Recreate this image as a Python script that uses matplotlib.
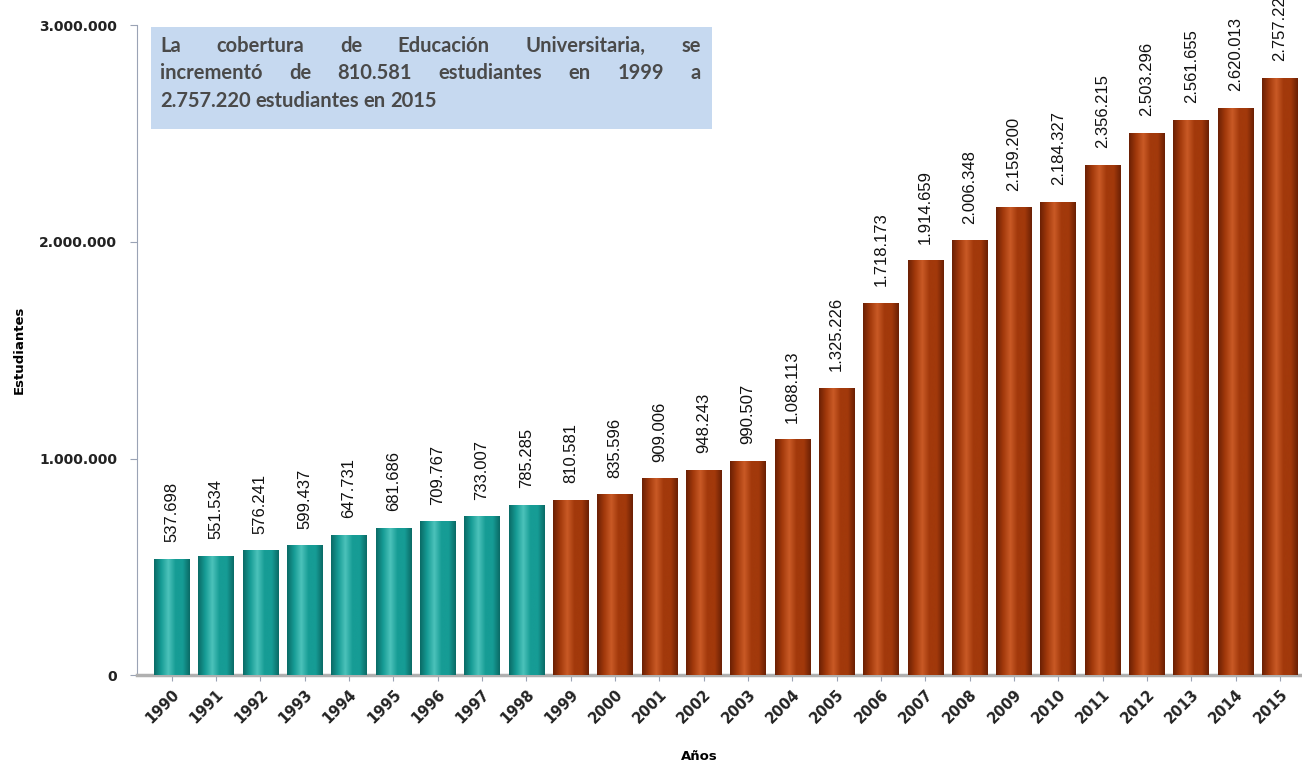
import matplotlib
matplotlib.use("Agg")
import matplotlib.pyplot as plt
import numpy as np
from matplotlib.colors import LinearSegmentedColormap
from matplotlib.patches import Rectangle

years = [str(y) for y in range(1990, 2016)]
students = [537698, 551534, 576241, 599437, 647731, 681686, 709767, 733007, 785285,
            810581, 835596, 909006, 948243, 990507, 1088113, 1325226, 1718173, 1914659,
            2006348, 2159200, 2184327, 2356215, 2503296, 2561655, 2620013, 2757220]
value_labels = ["537.698", "551.534", "576.241", "599.437", "647.731", "681.686", "709.767",
                "733.007", "785.285", "810.581", "835.596", "909.006", "948.243", "990.507",
                "1.088.113", "1.325.226", "1.718.173", "1.914.659", "2.006.348", "2.159.200",
                "2.184.327", "2.356.215", "2.503.296", "2.561.655", "2.620.013", "2.757.220"]
yticks = [0, 1000000, 2000000, 3000000]
ytick_labels = ["0", "1.000.000", "2.000.000", "3.000.000"]
note_lines = ["La cobertura de Educación Universitaria, se",
              "incrementó de 810.581 estudiantes en 1999 a",
              "2.757.220 estudiantes en 2015"]

fig = plt.figure(figsize=(13.02, 7.63), dpi=100)
ax = fig.add_axes([0.105, 0.115, 0.895, 0.852])
x = np.arange(len(years))
colors = ["#169c95" if int(y) < 1999 else "#a2390b" for y in years]
dark = ["#0a6a65" if int(y) < 1999 else "#6a2004" for y in years]
light = ["#4cc2ba" if int(y) < 1999 else "#c95a26" for y in years]

bars = ax.bar(x, students, width=0.8, color=colors, edgecolor="none", zorder=3)
ax.set_xlim(-0.79, 25.5)
ax.set_ylim(0, 3000000)

grad = np.linspace(0, 1, 256).reshape(1, -1)
for b, c, d, l in zip(bars, colors, dark, light):
    cmap = LinearSegmentedColormap.from_list("g", [d, c, l, c, c, d])
    x0, w = b.get_x(), b.get_width()
    h = b.get_height()
    im = ax.imshow(grad, extent=[x0, x0 + w, 0, h], aspect="auto", cmap=cmap, zorder=4)
    im.set_clip_path(b)

for xi, v, lab in zip(x, students, value_labels):
    ax.annotate(lab, (xi, v), xytext=(0, 12), textcoords="offset points",
                rotation=90, ha="center", va="bottom", fontsize=12,
                family=["Liberation Sans", "DejaVu Sans"], color="#111111", zorder=5)

ax.set_xticks(x)
ax.set_xticklabels(years, rotation=45, ha="right", rotation_mode="anchor",
                   fontsize=10.5, fontweight="bold", color="#222222")
ax.set_yticks(yticks)
ax.set_yticklabels(ytick_labels, fontsize=10, fontweight="bold", color="#222222")
ax.tick_params(axis="x", length=4, color="#9aa3b5", pad=4)
ax.tick_params(axis="y", length=5, color="#9aa3b5", pad=9)
for s in ["top", "right"]:
    ax.spines[s].set_visible(False)
ax.spines["left"].set_color("#9aa3b5")
ax.spines["bottom"].set_color("#b0b0b0")
ax.spines["bottom"].set_linewidth(2.5)
ax.set_ylabel("Estudiantes", fontsize=9.5, fontweight="bold")
ax.yaxis.set_label_coords(-0.095, 0.5)
ax.set_xlabel("Años", fontsize=9.5, fontweight="bold")
ax.xaxis.set_label_coords(0.483, -0.115)

# note box with justified text
box_l, box_r, box_t, box_b = 0.012, 0.494, 0.997, 0.84
ax.add_patch(Rectangle((box_l, box_b), box_r - box_l, box_t - box_b, transform=ax.transAxes,
                       facecolor="#c6d9f0", edgecolor="none", zorder=6))
fig.canvas.draw()
renderer = fig.canvas.get_renderer()
tl, tr = box_l + 0.008, box_r - 0.01
line_ys = [0.968, 0.926, 0.884]
inv = ax.transAxes.inverted()
for i, (line, yy) in enumerate(zip(note_lines, line_ys)):
    words = line.split(" ")
    texts = [ax.text(0, yy, w, transform=ax.transAxes, fontsize=14.5, fontweight="bold",
                     family=["Lato", "DejaVu Sans"],
                     color="#4a4a4a", va="center", ha="left", zorder=7) for w in words]
    widths = []
    for t in texts:
        bb = t.get_window_extent(renderer)
        p0 = inv.transform((bb.x0, bb.y0)); p1 = inv.transform((bb.x1, bb.y1))
        widths.append(p1[0] - p0[0])
    if i < len(note_lines) - 1:
        gap = (tr - tl - sum(widths)) / (len(words) - 1)
    else:
        gap = 0.004
    cx = tl
    for t, w in zip(texts, widths):
        t.set_x(cx)
        cx += w + gap

fig.savefig("out.png", dpi=100, facecolor="white")
